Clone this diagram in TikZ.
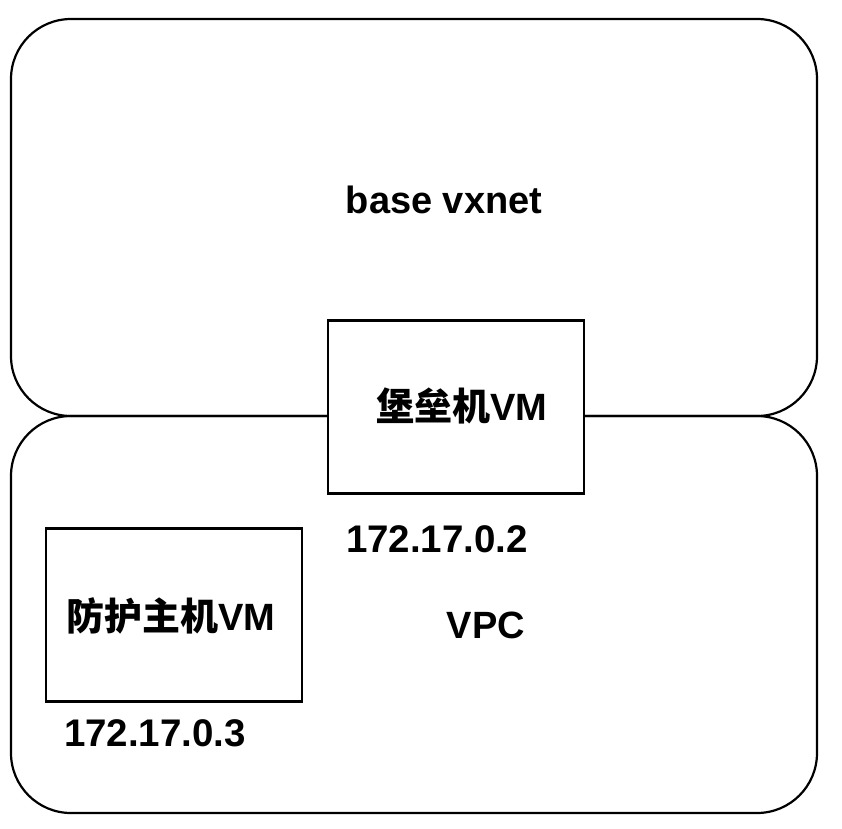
\documentclass[tikz,border=0pt]{standalone}
\usepackage{fontspec}
\setmainfont{Liberation Sans}
\newfontfamily\cjk{Noto Sans CJK SC}
\begin{document}
\begin{tikzpicture}[x=1pt,y=-1pt,
  net/.style={draw=black,line width=2.2pt,rounded corners=60pt},
  vm/.style={draw=black,fill=white,line width=2.2pt,minimum width=256pt,minimum height=173pt,inner sep=0pt},
  lbl/.style={font=\fontsize{38}{40}\selectfont\bfseries,inner sep=0pt},
  ip/.style={font=\fontsize{38.5}{40}\selectfont\bfseries,inner sep=0pt,anchor=base}]
\useasboundingbox (0,0) rectangle (842,828);
\path[net] (11,19) rectangle (817,416);
\path[net] (11,416) rectangle (817,813);
\node[vm] (bastion) at (456,407) {};
\node[vm] (host) at (174,615) {};
\node[lbl] (bastionlbl) at (462,406) {{\cjk\bfseries 堡垒机}VM};
\node[lbl] (hostlbl) at (171,616) {{\cjk\bfseries 防护主机}VM};
\node[lbl,anchor=base] (base) at (444,213) {base vxnet};
\node[lbl,anchor=base] (vpc) at (486,638) {VPC};
\node[ip] (ip2) at (437,552) {172.17.0.2};
\node[ip] (ip3) at (155,746) {172.17.0.3};
\end{tikzpicture}
\end{document}
